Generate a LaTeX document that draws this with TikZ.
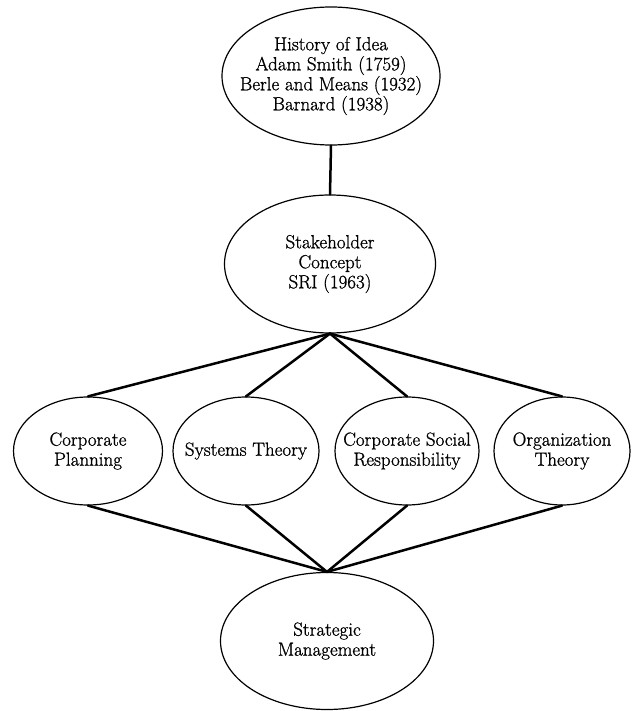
\documentclass[tikz,border=0pt]{standalone}
\usepackage{fontspec}
\newfontfamily\diagfont{Latin Modern Roman}[UprightFeatures={FakeBold=1.0}]
\usetikzlibrary{shapes.geometric}
\tikzset{
  idea/.style={ellipse, draw=black, line width=1.2pt, inner sep=0pt},
  txt/.style={align=center, inner sep=0pt, font=\diagfont\fontsize{19}{20}\selectfont},
  link/.style={line width=2.5pt, line cap=round}
}
\begin{document}
\begin{tikzpicture}[x=1pt,y=-1pt]
\useasboundingbox (0,0) rectangle (631,711);
\node[idea, minimum width=218pt, minimum height=138pt,
  label={[txt]center:{History of Idea\\Adam Smith (1759)\\Berle and Means (1932)\\Barnard (1938)}}]
  (hist) at (331,76) {};
\node[idea, minimum width=211pt, minimum height=138pt,
  label={[txt]center:{Stakeholder\\Concept\\SRI (1963)}}]
  (stake) at (330,264) {};
\node[idea, minimum width=149pt, minimum height=108pt,
  label={[txt]center:{Corporate\\Planning}}]
  (cp) at (88,451) {};
\node[idea, minimum width=146pt, minimum height=108pt,
  label={[txt]center:{Systems Theory}}]
  (st) at (246,451) {};
\node[idea, minimum width=144pt, minimum height=108pt,
  label={[txt]center:{Corporate Social\\Responsibility}}]
  (csr) at (407,451) {};
\node[idea, minimum width=136pt, minimum height=108pt,
  label={[txt]center:{Organization\\Theory}}]
  (ot) at (562,451) {};
\node[idea, minimum width=213pt, minimum height=137pt,
  label={[txt]center:{Strategic\\Management}}]
  (sm) at (327,641) {};
\draw[link] (hist.south) -- (stake.north);
\foreach \n in {cp,st,csr,ot}{
  \draw[link] (stake.south) -- (\n.north);
  \draw[link] (\n.south) -- (sm.north);
}
\end{tikzpicture}
\end{document}
